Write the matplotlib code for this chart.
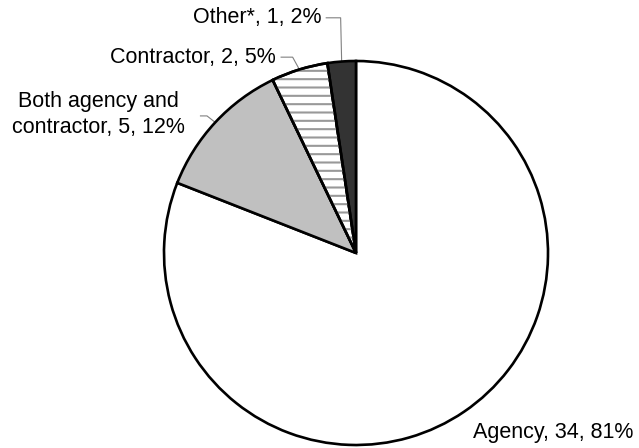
import matplotlib.pyplot as plt
import numpy as np
from matplotlib.patches import Wedge

plt.rcParams["font.family"] = ["Liberation Sans", "DejaVu Sans"]
plt.rcParams["hatch.linewidth"] = 1.5

# data
labels = ["Agency", "Both agency and\ncontractor", "Contractor", "Other*"]
counts = [34, 5, 2, 1]
percents = [81, 12, 5, 2]
colors = ["white", "#c0c0c0", "white", "#333333"]

fig = plt.figure(figsize=(6.39, 4.48), dpi=100)
ax = fig.add_axes([0, 0, 1, 1])

wedges, _ = ax.pie(counts, colors=colors, startangle=90, counterclock=False,
                   wedgeprops=dict(edgecolor="black", linewidth=1.9))

# gray horizontal hatching on the contractor slice
w = wedges[2]
ax.add_patch(Wedge(w.center, w.r, w.theta1, w.theta2, facecolor="none",
                   edgecolor="#999999", hatch="--", linewidth=0, zorder=w.get_zorder() + 0.1))
ax.add_patch(Wedge(w.center, w.r, w.theta1, w.theta2, facecolor="none",
                   edgecolor="black", linewidth=1.9, zorder=w.get_zorder() + 0.2))

# label positions (data coords, pie radius = 1)
text_pos = [(0.61, -0.935), (-1.34, 0.72), (-0.42, 1.02), (-0.18, 1.225)]
aligns = ["left", "center", "right", "right"]
elbows = [None, (-0.776, 0.714), (-0.33, 1.02), (-0.08, 1.225)]
starts = [None, (-0.81, 0.714), (-0.39, 1.02), (-0.155, 1.225)]

for i, wd in enumerate(wedges):
    txt = f"{labels[i]}, {counts[i]}, {percents[i]}%"
    ax.text(text_pos[i][0], text_pos[i][1], txt, ha=aligns[i], va="center",
            fontsize=15.5, linespacing=1.3)
    if elbows[i] is not None:
        mid = np.deg2rad((wd.theta1 + wd.theta2) / 2)
        px, py = np.cos(mid), np.sin(mid)
        ax.plot([starts[i][0], elbows[i][0], px], [starts[i][1], elbows[i][1], py],
                color="#808080", linewidth=0.8, zorder=0.5)

ax.set_xlim(-356 / 192, (639 - 356) / 192)
ax.set_ylim(-(448 - 253) / 192, 253 / 192)
ax.set_aspect("equal")
ax.axis("off")

fig.savefig("out.png", dpi=100)
